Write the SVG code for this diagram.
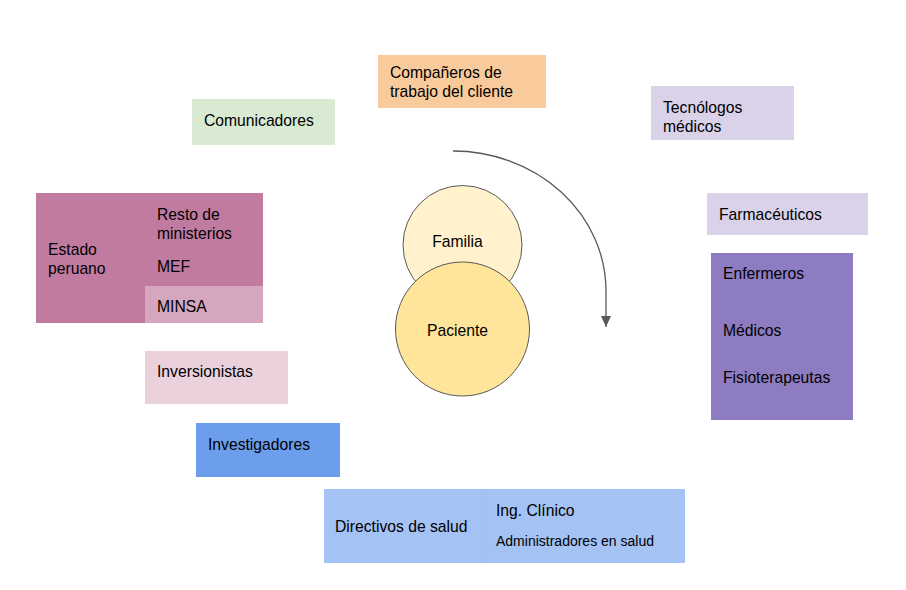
<svg xmlns="http://www.w3.org/2000/svg" width="906" height="590" viewBox="0 0 906 590">
<style>
text{font-family:"Liberation Sans",Arial,sans-serif;font-size:15.7px;fill:#000}
.sm{font-size:14px}
.c{stroke:#595959;stroke-width:1}
.mid{text-anchor:middle}
</style>
<defs>
<marker id="ah" markerWidth="12" markerHeight="12" refX="11" refY="6" orient="auto" markerUnits="userSpaceOnUse" viewBox="0 0 12 12">
<path d="M0,1 L11,6 L0,11 Z" fill="#595959"/>
</marker>
</defs>
<rect width="906" height="590" fill="#fff"/>
<g id="estado">
<rect x="36" y="193" width="109" height="130" fill="#c27ba0"/>
<text x="48" y="255">Estado</text><text x="48" y="274">peruano</text>
</g>
<g id="resto">
<rect x="145" y="193" width="118" height="93" fill="#c27ba0"/>
<text x="157" y="220">Resto de</text><text x="157" y="239">ministerios</text>
<text x="157" y="272">MEF</text>
</g>
<g id="minsa">
<rect x="145" y="286" width="118" height="37" fill="#d5a6bd"/>
<text x="157" y="312">MINSA</text>
</g>
<g id="comunicadores">
<rect x="192" y="99" width="143" height="46" fill="#d9ead3"/>
<text x="204" y="126">Comunicadores</text>
</g>
<g id="companeros">
<rect x="378" y="55" width="168" height="53" fill="#f9cb9c"/>
<text x="390" y="78">Compañeros de</text><text x="390" y="97">trabajo del cliente</text>
</g>
<g id="tecnologos">
<rect x="651" y="86" width="143" height="54" fill="#d9d2e9"/>
<text x="663" y="113">Tecnólogos</text><text x="663" y="132">médicos</text>
</g>
<g id="farmaceuticos">
<rect x="707" y="193" width="161" height="42" fill="#d9d2e9"/>
<text x="719" y="220">Farmacéuticos</text>
</g>
<g id="profesionales">
<rect x="711" y="253" width="142" height="167" fill="#8e7cc3"/>
<text x="723" y="279">Enfermeros</text>
<text x="723" y="336">Médicos</text>
<text x="723" y="383">Fisioterapeutas</text>
</g>
<g id="inversionistas">
<rect x="145" y="351" width="143" height="53" fill="#ead1dc"/>
<text x="157" y="377">Inversionistas</text>
</g>
<g id="investigadores">
<rect x="196" y="423" width="144" height="54" fill="#6d9eeb"/>
<text x="208" y="450">Investigadores</text>
</g>
<g id="directivos">
<rect x="324" y="489" width="361" height="74" fill="#a4c2f4"/>
<line x1="485" y1="489" x2="485" y2="563" stroke="#a1bff2" stroke-width="1"/>
<text x="335" y="532">Directivos de salud</text>
<text x="496" y="516">Ing. Clínico</text>
<text x="496" y="546" class="sm">Administradores en salud</text>
</g>
<g id="familia">
<circle cx="462.5" cy="245" r="59.5" fill="#fff2cc" class="c"/>
<text x="457.5" y="247" class="mid">Familia</text>
</g>
<g id="paciente">
<circle cx="462.5" cy="329" r="67" fill="#ffe599" class="c"/>
<text x="457.5" y="336" class="mid">Paciente</text>
</g>
<g id="connectors">
<path d="M453,151 A153,140 0 0 1 606,291 L606,327" fill="none" stroke="#595959" stroke-width="1.3" marker-end="url(#ah)"/>
</g>
</svg>
